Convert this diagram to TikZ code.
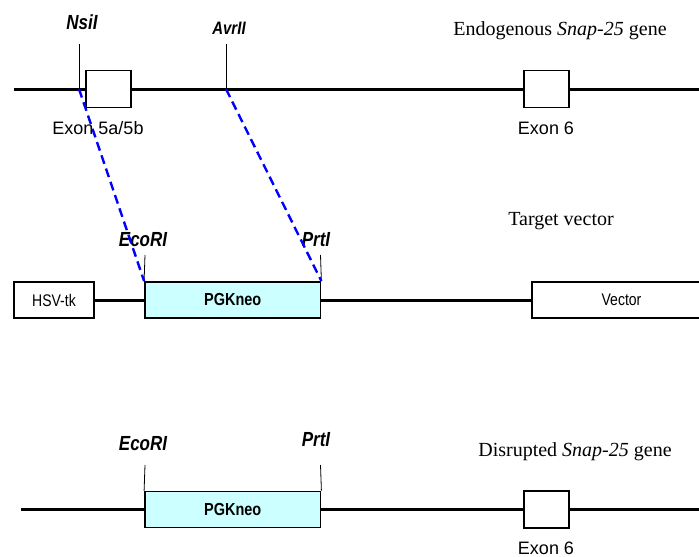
\documentclass[tikz,border=0pt]{standalone}
\usepackage{fontspec}
\setmainfont{Liberation Serif}
\setsansfont{Liberation Sans}

\definecolor{neocyan}{HTML}{CCFFFF}
\newcommand{\tallsans}[1]{\scalebox{1}[1.2]{#1}}

\tikzset{
    dna/.style={line width=3pt},
    exon/.style={draw, line width=1.8pt, fill=white, minimum width=45pt, minimum height=37pt, inner sep=0pt},
    cassette/.style={draw, line width=1.8pt, fill=neocyan, minimum width=175.5pt, minimum height=36pt, inner sep=0pt,
        font=\sffamily\bfseries\fontsize{14.5}{16}\selectfont},
    plainbox/.style={draw, line width=1.8pt, fill=white, minimum height=36pt, inner sep=0pt,
        font=\sffamily\fontsize{14}{16}\selectfont},
    site/.style={font=\sffamily\bfseries\itshape\fontsize{17}{20}\selectfont},
    cut/.style={line width=0.8pt},
    arm/.style={blue, line width=2.4pt, dash pattern=on 9pt off 5pt},
    genetitle/.style={font=\fontsize{20}{22}\selectfont},
    exonlabel/.style={font=\sffamily\fontsize{18}{20}\selectfont}
}

\begin{document}
\begin{tikzpicture}[x=1pt, y=-1pt]
    \clip (0,0) rectangle (699,557);

    % Endogenous gene
    \coordinate (w1) at (14,89);
    \coordinate (e1) at (699,89);
    \coordinate (nsi) at (79,89);
    \coordinate (nsitop) at (79,44);
    \coordinate (avr) at (226,89);
    \coordinate (avrtop) at (226,44);
    \node[exon] (ex5) at (108.5,89) {};
    \node[exon] (ex6a) at (546.5,89) {};
    \draw[dna] (w1) -- (ex5.west);
    \draw[dna] (ex5.east) -- (ex6a.west);
    \draw[dna] (ex6a.east) -- (e1);
    \draw[cut] (nsitop) -- (nsi);
    \draw[cut] (avrtop) -- (avr);
    \node[site] (nsilbl) at (82,22.5) {\tallsans{NsiI}};
    \node[site, font=\sffamily\bfseries\itshape\fontsize{15}{18}\selectfont] (avrlbl) at (229,28) {\tallsans{AvrII}};
    \node[exonlabel] (ex5lbl) at (98,128) {Exon 5a/5b};
    \node[exonlabel] (ex6albl) at (546,128) {Exon 6};
    \node[genetitle] (title1) at (560,31) {Endogenous \textit{Snap-25} gene};

    % Target vector
    \node[plainbox, minimum width=80pt] (hsv) at (54,300) {\tallsans{HSV-tk}};
    \node[cassette] (pgkb) at (232.75,300) {\tallsans{PGKneo}};
    \node[plainbox, minimum width=179pt] (vec) at (621.5,300) {\tallsans{Vector}};
    \coordinate (ecobtop) at (145,255);
    \coordinate (prtbtop) at (320.5,255);
    \draw[dna] (hsv.east) -- (pgkb.west);
    \draw[dna] (pgkb.east) -- (vec.west);
    \draw[cut] (ecobtop) -- (pgkb.north west);
    \draw[cut] (prtbtop) -- (pgkb.north east);
    \node[site] (ecoblbl) at (143,240) {\tallsans{EcoRI}};
    \node[site] (prtblbl) at (316,240) {\tallsans{PrtI}};
    \node[genetitle] (title2) at (561,221) {Target vector};

    % Homology arms
    \draw[arm] (nsi) -- (pgkb.north west);
    \draw[arm] (avr) -- (pgkb.north east);

    % Disrupted gene
    \coordinate (w3) at (21,509.5);
    \coordinate (e3) at (699,509.5);
    \node[cassette] (pgkc) at (232.75,509.5) {\tallsans{PGKneo}};
    \node[exon] (ex6c) at (546.5,509.5) {};
    \coordinate (ecoctop) at (145,465);
    \coordinate (prtctop) at (320.5,465);
    \draw[dna] (w3) -- (pgkc.west);
    \draw[dna] (pgkc.east) -- (ex6c.west);
    \draw[dna] (ex6c.east) -- (e3);
    \draw[cut] (ecoctop) -- (pgkc.north west);
    \draw[cut] (prtctop) -- (pgkc.north east);
    \node[site] (ecoclbl) at (143,444) {\tallsans{EcoRI}};
    \node[site] (prtclbl) at (316,440) {\tallsans{PrtI}};
    \node[exonlabel] (ex6clbl) at (546,548) {Exon 6};
    \node[genetitle] (title3) at (575,452) {Disrupted \textit{Snap-25} gene};
\end{tikzpicture}
\end{document}
